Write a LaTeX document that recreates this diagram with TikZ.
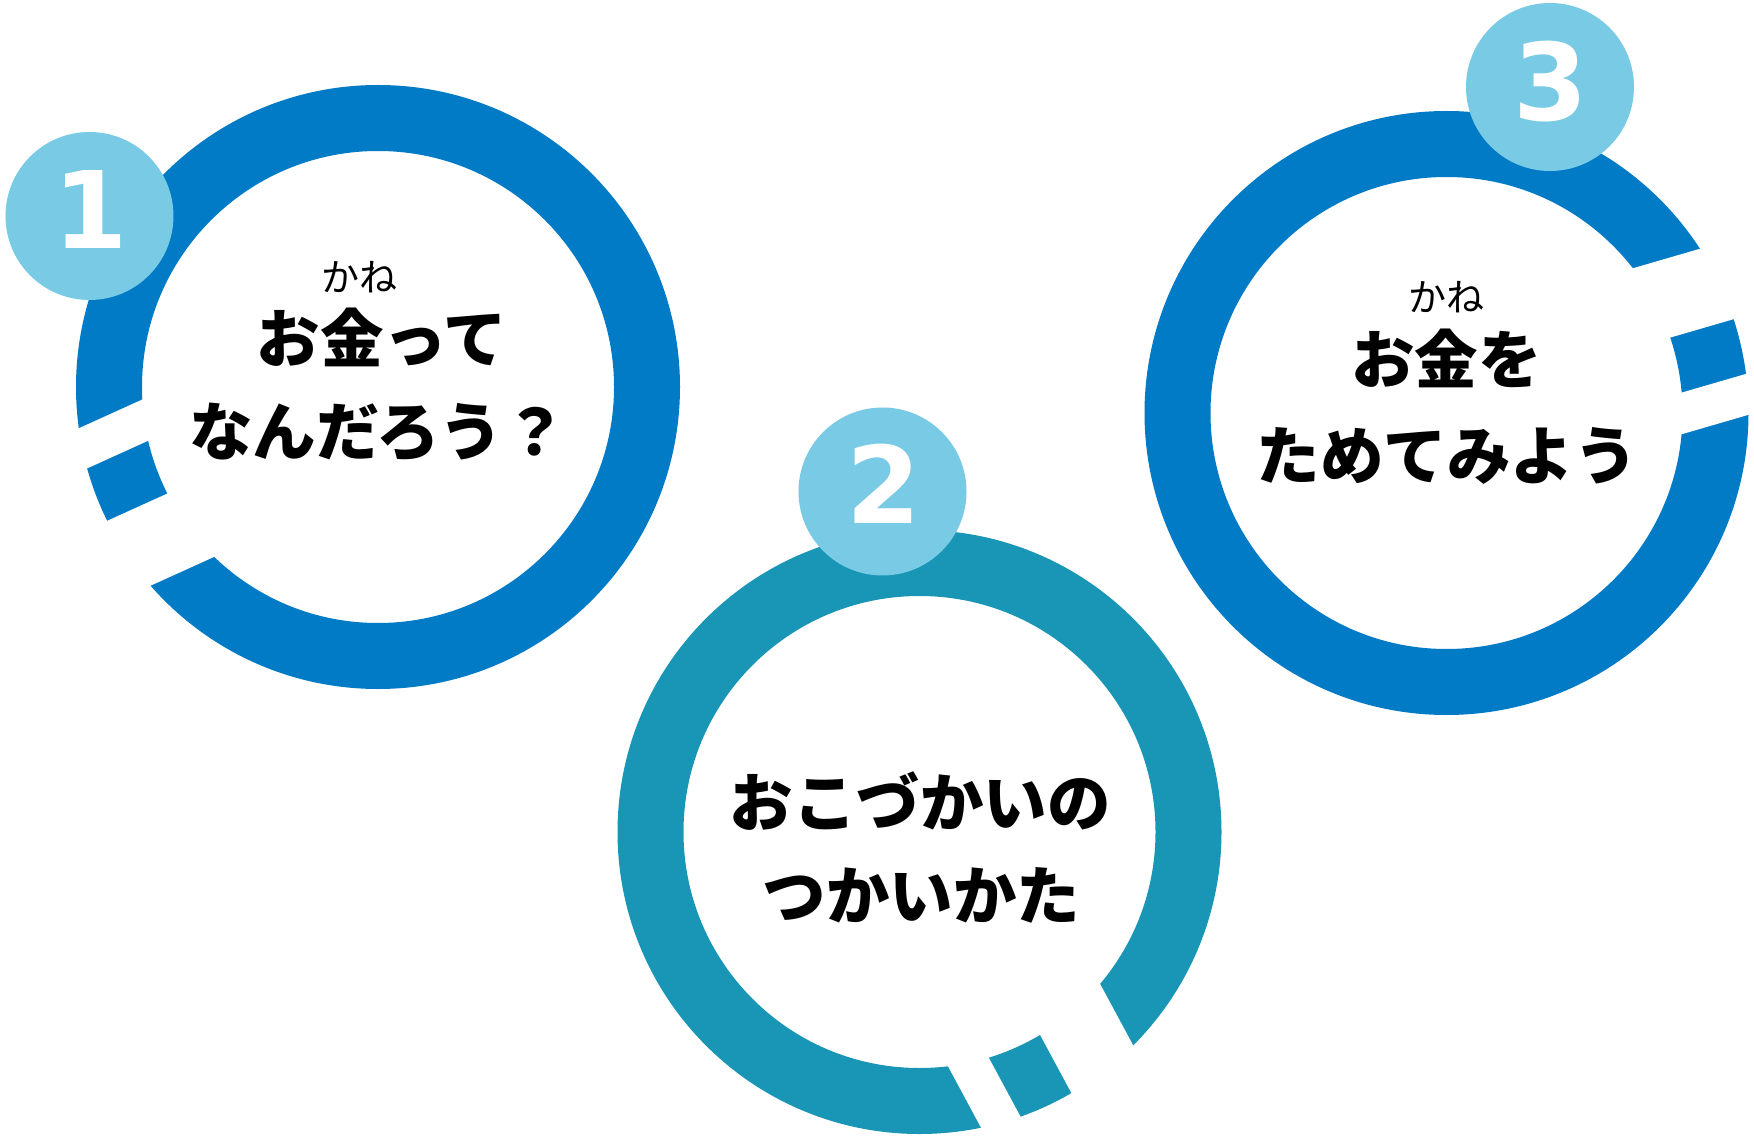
\documentclass[tikz,border=0pt]{standalone}
\usepackage{fontspec}
\newfontfamily\jpfont{Noto Sans CJK JP}
\newfontfamily\numfont{DejaVu Sans}
\usepackage{tikz}
\usepackage{xcolor}
\definecolor{ringblue}{RGB}{2,123,199}
\definecolor{ringteal}{RGB}{25,149,181}
\definecolor{badgeblue}{RGB}{120,202,229}

\begin{document}
\begin{tikzpicture}
	[x=1pt, y=-1pt,
	ring/.style = {
		line width=66pt
	},
	cut/.style = {
		fill=white
	},
	badge/.style = {
		circle, fill=badgeblue, inner sep=0pt, minimum size=168pt
	},
	num/.style = {
		text=white, inner sep=0pt,
		font=\numfont\bfseries\fontsize{107}{107}\selectfont
	},
	title/.style = {
		inner sep=0pt,
		font=\jpfont\bfseries\fontsize{63.5}{63.5}\selectfont
	},
	ruby/.style = {
		inner sep=0pt,
		font=\jpfont\fontsize{38}{38}\selectfont
	}]
	
	\useasboundingbox (0,0) rectangle (1754,1139);
	
	%Draw rings
	\coordinate (c1) at (378,387);
	\coordinate (c2) at (919.5,832);
	\coordinate (c3) at (1446.5,413);
	
	\draw[ring,draw=ringblue] (c1) circle (269);
	\draw[ring,draw=ringteal] (c2) circle (269);
	\draw[ring,draw=ringblue] (c3) circle (269);
	
	%cut the gaps
	\begin{scope}[shift={(c1)}, rotate=204.4]
		\fill[cut] (210,-87) rectangle (320,-10);
		\fill[cut] (210,46) rectangle (320,86);
	\end{scope}
	\begin{scope}[shift={(c2)}, rotate=-61.7]
		\fill[cut] (210,-87) rectangle (320,-10);
		\fill[cut] (210,46) rectangle (320,86);
	\end{scope}
	\begin{scope}[shift={(c3)}, rotate=16.2]
		\fill[cut] (210,-87) rectangle (320,-10);
		\fill[cut] (210,46) rectangle (320,86);
	\end{scope}
	
	%Draw badges
	\node[badge] at (89.5,216) (b1) {};
	\node[badge] at (882.5,491.5) (b2) {};
	\node[badge] at (1550,87) (b3) {};
	
	\node[num] at (90.5,210) (n1) {1};
	\node[num] at (884,484) (n2) {2};
	\node[num] at (1551,82) (n3) {3};
	
	%Draw texts
	\node[ruby] at (359,277) (r1) {かね};
	\node[title] at (382,337) (t1a) {お金って};
	\node[title] at (378,432) (t1b) {なんだろう？};
	
	\node[title] at (920,801) (t2a) {おこづかいの};
	\node[title] at (921.5,895) (t2b) {つかいかた};
	
	\node[ruby] at (1446,297) (r3) {かね};
	\node[title] at (1446.5,358) (t3a) {お金を};
	\node[title] at (1447,456) (t3b) {ためてみよう};
	
\end{tikzpicture}
\end{document}
